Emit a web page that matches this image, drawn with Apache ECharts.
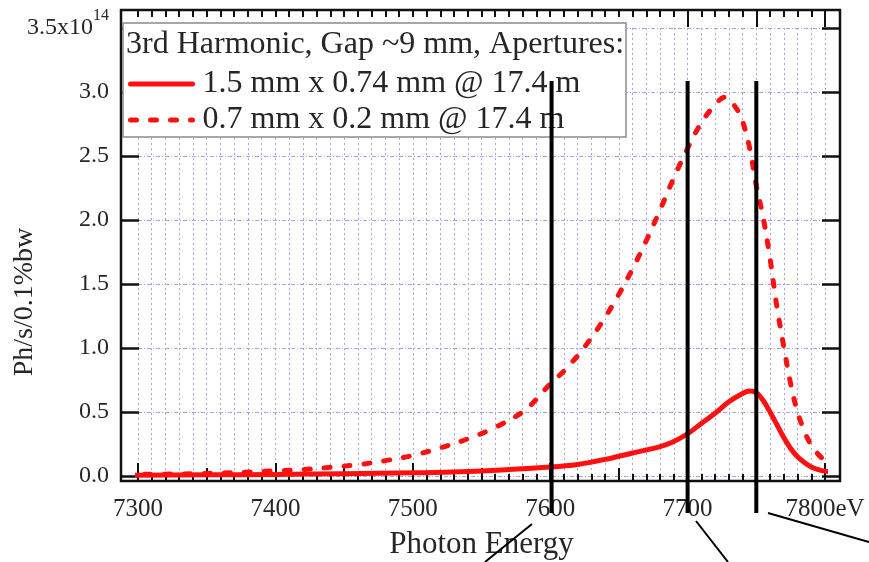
<!DOCTYPE html>
<html><head><meta charset="utf-8">
<script src="https://cdn.jsdelivr.net/npm/echarts@6/dist/echarts.min.js"></script>
<style>html,body{margin:0;padding:0;background:#fff}#chart{width:869px;height:562px}</style>
</head><body><div id="chart"></div>
<script>
// Flux in units of 1e14 Ph/s/0.1%bw versus photon energy (eV)
const energyWide = [7290,7300,7350,7400,7450,7500,7550,7600,7620,7640,7660,7680,7690,7700,7710,7720,7730,7740,7745,7750,7755,7760,7765,7770,7775,7780,7785,7790,7795,7800,7810];
const fluxWide   = [0.005,0.006,0.009,0.012,0.018,0.025,0.04,0.07,0.09,0.13,0.18,0.23,0.27,0.33,0.41,0.49,0.58,0.645,0.665,0.65,0.59,0.50,0.40,0.30,0.215,0.15,0.105,0.07,0.05,0.038,0.03];

const energyNarrow = [7290,7300,7350,7400,7420,7440,7460,7480,7500,7520,7540,7560,7580,7590,7600,7610,7620,7630,7640,7650,7660,7670,7680,7690,7700,7710,7720,7727,7735,7740,7745,7750,7755,7760,7765,7770,7775,7780,7785,7790,7795,7800,7805,7810];
const fluxNarrow   = [0.01,0.012,0.02,0.04,0.05,0.068,0.088,0.12,0.16,0.22,0.29,0.38,0.50,0.60,0.72,0.82,0.94,1.08,1.24,1.42,1.62,1.84,2.08,2.33,2.56,2.76,2.90,2.96,2.88,2.77,2.57,2.27,2.02,1.70,1.32,1.01,0.72,0.50,0.35,0.24,0.17,0.12,0.09,0.06];

const seriesNames = ['1.5 mm x 0.74 mm @ 17.4 m', '0.7 mm x 0.2 mm @ 17.4 m'];
const legendTitle = '3rd Harmonic, Gap ~9 mm, Apertures:';
const xAxisTitle = 'Photon Energy';
const yAxisTitle = 'Ph/s/0.1%bw';
const xTopLongTicks = [7700, 7750, 7800];
// vertical marker lines: energy, and value extent top/bottom
const markerEnergies = [7601, 7700, 7750];
const markerSpan = [3.086, -0.29];

const FONT = '"Liberation Serif", "Times New Roman", serif';
const TXT = '#262626';
const GRIDC = '#a3a3ee';
const RED = '#ff1010';

const zip = (xs, ys) => xs.map((x, i) => [x, ys[i]]);

const chart = echarts.init(document.getElementById('chart'), null, {renderer: 'canvas'});

const hiddenAxisBits = {axisLine: {show: false, onZero: false}, axisLabel: {show: false}, splitLine: {show: false}};

chart.setOption({
  animation: false,
  backgroundColor: '#fff',
  grid: [
    {left: 138, right: 44, top: 28, bottom: 86, outerBoundsMode: 'none', containLabel: false},
    {left: 121, right: 29, top: 10, bottom: 81, outerBoundsMode: 'none', containLabel: false,
     show: true, borderColor: '#111', borderWidth: 2.5, backgroundColor: 'transparent'}
  ],
  title: {
    text: legendTitle, left: 126, top: 29, padding: 0,
    textStyle: {fontFamily: FONT, fontSize: 32, fontWeight: 'normal', color: TXT, lineHeight: 32}
  },
  legend: {
    orient: 'vertical', left: 128, top: 68, padding: 0, itemGap: 4,
    itemWidth: 62, itemHeight: 14,
    lineStyle: {width: 5},
    itemStyle: {color: 'rgba(0,0,0,0)', borderWidth: 0, opacity: 0},
    textStyle: {fontFamily: FONT, fontSize: 32, color: TXT, lineHeight: 32, padding: [0, 0, 0, 5]},
    data: seriesNames,
    selectedMode: false
  },
  xAxis: [
    { // main bottom axis: labels, 100 eV ticks, 10 eV minor ticks and grid
      type: 'value', gridIndex: 0, position: 'bottom', offset: 5,
      min: 7300, max: 7800, interval: 100,
      name: xAxisTitle, nameLocation: 'middle', nameGap: 48, nameMoveOverlap: false,
      nameTextStyle: {fontFamily: FONT, fontSize: 31, color: TXT},
      axisLine: {show: false, onZero: false},
      axisTick: {show: true, inside: true, length: 18, lineStyle: {color: '#111', width: 2}},
      minorTick: {show: true, splitNumber: 10, length: 7, lineStyle: {color: '#111', width: 2}},
      axisLabel: {margin: 16, fontFamily: FONT, fontSize: 25, color: TXT,
        formatter: v => v === 7800 ? '7800eV' : String(v)},
      splitLine: {show: true, lineStyle: {color: GRIDC, width: 1, type: [2, 3]}},
      minorSplitLine: {show: true, lineStyle: {color: GRIDC, width: 1, type: [2, 3]}}
    },
    { // 50 eV bottom ticks
      type: 'value', gridIndex: 0, position: 'bottom', offset: 5,
      min: 7300, max: 7800, interval: 50,
      axisTick: {show: true, inside: true, length: 13, lineStyle: {color: '#111', width: 2}},
      ...hiddenAxisBits
    },
    { // top frame minor ticks
      type: 'value', gridIndex: 0, position: 'top', offset: 18,
      min: 7300, max: 7800, interval: 10,
      axisTick: {show: true, inside: true, length: 7, lineStyle: {color: '#111', width: 2}},
      ...hiddenAxisBits
    },
    { // top frame long ticks
      type: 'value', gridIndex: 0, position: 'top', offset: 18,
      min: 7300, max: 7800, interval: 50,
      axisTick: {show: true, inside: true, length: 17, customValues: xTopLongTicks, lineStyle: {color: '#111', width: 2}},
      ...hiddenAxisBits
    },
    {type: 'value', gridIndex: 1, show: false, min: 0, max: 1}
  ],
  yAxis: [
    {
      type: 'value', gridIndex: 0, position: 'left', offset: 17,
      min: 0, max: 3.5, interval: 0.5,
      name: yAxisTitle, nameLocation: 'middle', nameGap: 82, nameRotate: 90, nameMoveOverlap: false,
      nameTextStyle: {fontFamily: FONT, fontSize: 28, color: TXT, padding: [0, 100, 0, 0]},
      axisLine: {show: false, onZero: false},
      axisTick: {show: true, inside: true, length: 18, lineStyle: {color: '#111', width: 2.5}},
      axisLabel: {
        margin: 12, fontFamily: FONT, fontSize: 24, color: TXT,
        formatter: v => v === 3.5 ? '{a|3.5x10}{s|14}' : v.toFixed(1),
        rich: {
          a: {fontFamily: FONT, fontSize: 24, color: TXT},
          s: {fontFamily: FONT, fontSize: 16, color: TXT, padding: [0, 0, 24, 0]}
        }
      },
      splitLine: {show: true, lineStyle: {color: GRIDC, width: 1, type: [4, 2, 1, 2]}}
    },
    {
      type: 'value', gridIndex: 0, position: 'right', offset: 15,
      min: 0, max: 3.5, interval: 0.5,
      axisTick: {show: true, inside: true, length: 18, lineStyle: {color: '#111', width: 2.5}},
      ...hiddenAxisBits
    },
    {type: 'value', gridIndex: 1, show: false, min: 0, max: 1}
  ],
  series: [
    {
      name: seriesNames[0], type: 'line', xAxisIndex: 0, yAxisIndex: 0,
      data: zip(energyWide, fluxWide), symbol: 'none', smooth: 0.35, clip: false,
      lineStyle: {color: RED, width: 5, cap: 'round', join: 'round'},
      itemStyle: {color: RED}, z: 3
    },
    {
      name: seriesNames[1], type: 'line', xAxisIndex: 0, yAxisIndex: 0,
      data: zip(energyNarrow, fluxNarrow), symbol: 'none', smooth: 0.35, clip: false,
      lineStyle: {color: RED, width: 5, type: [6, 14], cap: 'round', join: 'round'},
      itemStyle: {color: RED}, z: 3
    }
  ]
});

// legend frame, marker lines and callout strokes
const px = (e, v) => chart.convertToPixel({gridIndex: 0}, [e, v]);
const graphics = [
  {type: 'rect', z: 3, shape: {x: 123, y: 23, width: 503, height: 114},
   style: {fill: '#fff', stroke: '#8a8a8a', lineWidth: 1.5}}
];
markerEnergies.forEach(e => {
  const a = px(e, markerSpan[0]);
  const b = px(e, markerSpan[1]);
  graphics.push({type: 'line', z: 20, shape: {x1: a[0], y1: a[1], x2: b[0], y2: b[1]},
    style: {stroke: '#000', lineWidth: 4}});
});
[[532, 524, 485, 562], [696, 521, 728, 562], [768, 513, 869, 542]].forEach(s => {
  graphics.push({type: 'line', z: 20, shape: {x1: s[0], y1: s[1], x2: s[2], y2: s[3]},
    style: {stroke: '#000', lineWidth: 2}});
});
chart.setOption({graphic: graphics});
</script></body></html>
